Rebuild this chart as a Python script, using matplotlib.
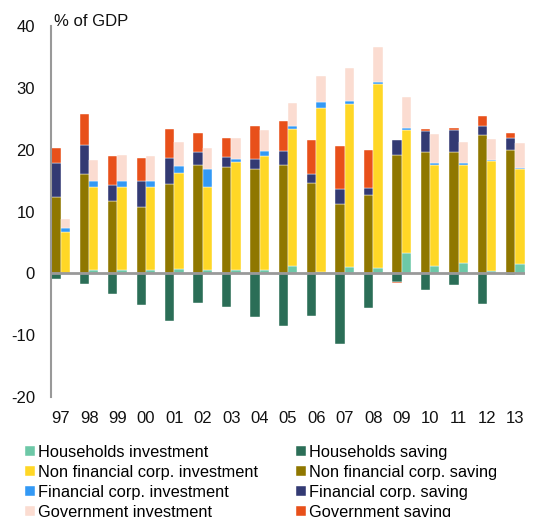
import matplotlib.pyplot as plt
import numpy as np

plt.rcParams['font.family'] = ['Liberation Sans', 'DejaVu Sans']
plt.rcParams['axes.unicode_minus'] = False

# Saving and investment by sector, % of GDP
years = ['97', '98', '99', '00', '01', '02', '03', '04', '05',
         '06', '07', '08', '09', '10', '11', '12', '13']

hh_sav = [-0.9, -1.8, -3.4, -5.2, -7.7, -4.85, -5.45, -7.0, -8.5,
          -6.85, -11.5, -5.6, -1.45, -2.7, -1.85, -4.9, -0.2]
nfc_sav = [12.3, 16.1, 11.65, 10.8, 14.5, 17.5, 17.15, 16.9, 17.5,
           14.6, 11.2, 12.7, 19.15, 19.6, 19.6, 22.4, 20.0]
fin_sav = [5.5, 4.6, 2.65, 4.1, 4.2, 2.2, 1.6, 1.55, 2.3,
           1.5, 2.4, 1.1, 2.45, 3.4, 3.5, 1.45, 1.9]
gov_sav = [2.5, 5.1, 4.6, 3.8, 4.6, 3.0, 3.2, 5.45, 4.85,
           5.5, 7.0, 6.15, -0.1, 0.35, 0.4, 1.6, 0.85]

hh_inv = [0.1, 0.5, 0.55, 0.5, 0.65, 0.55, 0.55, 0.55, 1.2,
          0.15, 1.0, 0.9, 3.25, 1.15, 1.6, 0.45, 1.45]
nfc_inv = [6.6, 13.4, 13.35, 13.4, 15.65, 13.45, 17.5, 18.45, 22.1,
           26.65, 26.45, 29.7, 19.95, 16.45, 15.9, 17.65, 15.35]
fin_inv = [0.7, 1.1, 1.1, 1.0, 1.0, 2.8, 0.5, 0.8, 0.55,
           0.9, 0.35, 0.4, 0.3, 0.3, 0.3, 0.2, 0.2]
gov_inv = [1.4, 3.4, 4.2, 4.1, 4.0, 3.5, 3.4, 3.4, 3.7,
           4.2, 5.4, 5.6, 5.0, 4.65, 3.5, 3.5, 4.0]

# colours
c_hh_inv, c_hh_sav = '#6dc8a7', '#2b6e57'
c_nfc_inv, c_nfc_sav = '#ffd726', '#8f7700'
c_fin_inv, c_fin_sav = '#3399f5', '#333a73'
c_gov_inv, c_gov_sav = '#fbdcd1', '#e8501a'

x = np.arange(len(years))
w = 0.33

fig = plt.figure(figsize=(5.36, 5.17), dpi=100)
ax = fig.add_axes([51/536, 1 - 397/517, (525 - 51)/536, (397 - 26)/517])


def stack(xpos, series, colors, labels):
    pos = np.zeros(len(xpos))
    neg = np.zeros(len(xpos))
    handles = []
    for vals, col, lab in zip(series, colors, labels):
        vals = np.array(vals)
        bottom = np.where(vals >= 0, pos, neg)
        h = ax.bar(xpos, vals, w, bottom=bottom, color=col, label=lab,
                   edgecolor='white', linewidth=0.3, align='edge')
        pos = pos + np.clip(vals, 0, None)
        neg = neg + np.clip(vals, None, 0)
        handles.append(h)
    return handles


h_sav = stack(x - w, [hh_sav, nfc_sav, fin_sav, gov_sav],
              [c_hh_sav, c_nfc_sav, c_fin_sav, c_gov_sav],
              ['Households saving', 'Non financial corp. saving',
               'Financial corp. saving', 'Government saving'])
h_inv = stack(x, [hh_inv, nfc_inv, fin_inv, gov_inv],
              [c_hh_inv, c_nfc_inv, c_fin_inv, c_gov_inv],
              ['Households investment', 'Non financial corp. investment',
               'Financial corp. investment', 'Government investment'])

ax.axhline(0, color='#999999', linewidth=2, zorder=3)
ax.set_xlim(-w - 0.01, len(years) - 1 + w + 0.01)
ax.set_ylim(-20, 40)
ax.set_yticks(np.arange(-20, 41, 10))
ax.set_xticks(x)
ax.set_xticklabels(years)
ax.tick_params(axis='both', length=0, labelsize=12, colors='#111111')
ax.tick_params(axis='y', pad=11.5)
ax.tick_params(axis='x', pad=10)
for s in ['top', 'right', 'bottom']:
    ax.spines[s].set_visible(False)
ax.spines['left'].set_color('#999999')
ax.spines['left'].set_linewidth(1.5)

fig.text(54/536, 1 - 22/517, '% of GDP', fontsize=12, va='center', ha='left',
         color='#111111')

fig.legend(handles=h_inv + h_sav, loc='upper left',
           bbox_to_anchor=(25/536, 1 - 445/517), ncol=2, frameon=False,
           fontsize=11.8, handlelength=0.6, handleheight=0.6,
           handletextpad=0.2, columnspacing=2.3, labelspacing=0.3,
           borderpad=0, borderaxespad=0)

fig.savefig('out.png', dpi=100)
